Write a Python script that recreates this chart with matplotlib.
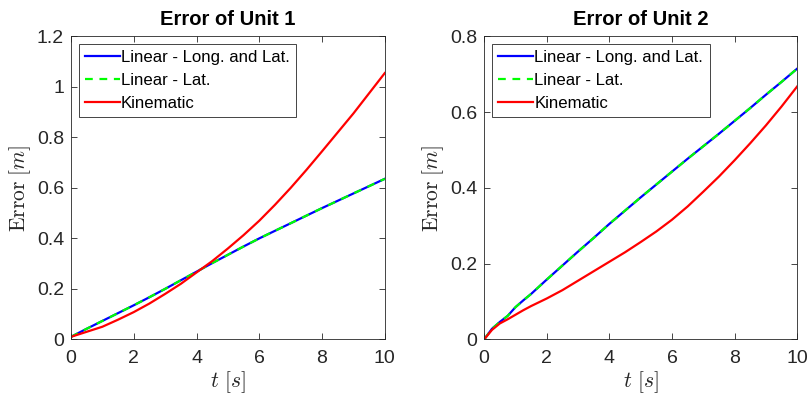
import numpy as np
import matplotlib
matplotlib.use('Agg')
import matplotlib.pyplot as plt
from matplotlib.ticker import FuncFormatter

plt.rcParams['font.family'] = ['Liberation Sans', 'DejaVu Sans']
plt.rcParams['mathtext.fontset'] = 'cm'

# unit 1
t1 = [0, 0.5, 1, 1.5, 2, 2.5, 3, 3.5, 4, 4.5, 5, 5.5, 6, 6.5, 7, 7.5, 8,
      8.5, 9, 9.5, 10]
lin1 = [0.01, 0.042, 0.073, 0.104, 0.135, 0.167, 0.2, 0.234, 0.268, 0.302,
        0.335, 0.368, 0.4, 0.43, 0.46, 0.49, 0.52, 0.549, 0.578, 0.607, 0.636]
lat1 = list(lin1)
kin1 = [0.01, 0.03, 0.05, 0.078, 0.108, 0.142, 0.18, 0.22, 0.265, 0.31,
        0.36, 0.413, 0.47, 0.533, 0.6, 0.671, 0.745, 0.82, 0.895, 0.975, 1.055]

# unit 2
t2 = [0, 0.25, 0.5, 0.75, 1, 1.25, 1.5, 2, 2.5, 3, 3.5, 4, 4.5, 5, 5.5, 6,
      6.5, 7, 7.5, 8, 8.5, 9, 9.5, 10]
lin2 = [0, 0.028, 0.046, 0.062, 0.085, 0.103, 0.12, 0.158, 0.195, 0.232,
        0.268, 0.305, 0.34, 0.375, 0.409, 0.443, 0.477, 0.51, 0.543, 0.577,
        0.611, 0.646, 0.68, 0.715]
lat2 = list(lin2)
kin2 = [0, 0.025, 0.042, 0.053, 0.065, 0.077, 0.088, 0.108, 0.13, 0.155,
        0.18, 0.205, 0.23, 0.257, 0.285, 0.316, 0.351, 0.39, 0.43, 0.473,
        0.518, 0.565, 0.615, 0.668]

labels = ['Linear - Long. and Lat.', 'Linear - Lat.', 'Kinematic']
titles = ['Error of Unit 1', 'Error of Unit 2']
ylims = [(0, 1.2), (0, 0.8)]
yticks = [[0, 0.2, 0.4, 0.6, 0.8, 1.0, 1.2], [0, 0.2, 0.4, 0.6, 0.8]]
xticks = [0, 2, 4, 6, 8, 10]

grey = '#262626'

fig = plt.figure(figsize=(8.11, 3.96), dpi=100)
ax1 = fig.add_axes([0.0875, 0.143, 0.387, 0.765])
ax2 = fig.add_axes([0.597, 0.143, 0.386, 0.765])

data = [(t1, lin1, lat1, kin1), (t2, lin2, lat2, kin2)]

for i, ax in enumerate([ax1, ax2]):
    t, lin, lat, kin = data[i]
    ax.plot(t, lin, color=(0, 0, 1), lw=1.6, label=labels[0])
    ax.plot(t, lat, color=(0, 1, 0), lw=1.6, ls=(0, (3.5, 3)), label=labels[1])
    ax.plot(t, kin, color=(1, 0, 0), lw=1.6, label=labels[2])
    ax.set_xlim(0, 10)
    ax.set_ylim(*ylims[i])
    ax.set_xticks(xticks)
    ax.set_yticks(yticks[i])
    ax.yaxis.set_major_formatter(FuncFormatter(lambda v, p: '%g' % v))
    ax.tick_params(direction='in', top=True, right=True, labelsize=14,
                   colors=grey, length=4, width=0.6)
    ax.tick_params(axis='x', pad=8)
    ax.tick_params(axis='y', pad=5)
    for s in ax.spines.values():
        s.set_color(grey)
        s.set_linewidth(0.6)
    ax.set_title(titles[i], fontsize=14.5, fontweight='bold', pad=8)
    ax.set_xlabel(r'$t\ [s]$', fontsize=15.5, color=grey, labelpad=1)
    ax.set_ylabel(r'$\mathrm{Error}\ [m]$', fontsize=15.5, color=grey, labelpad=3)
    leg = ax.legend(loc='upper left', fontsize=12.1, handlelength=2.1,
                    handletextpad=0.05, borderpad=0.38, labelspacing=0.45,
                    borderaxespad=0.45, fancybox=False, framealpha=1)
    leg.get_frame().set_edgecolor(grey)
    leg.get_frame().set_linewidth(0.6)
    for txt in leg.get_texts():
        txt.set_color('black')

fig.savefig('out.png', dpi=100)
